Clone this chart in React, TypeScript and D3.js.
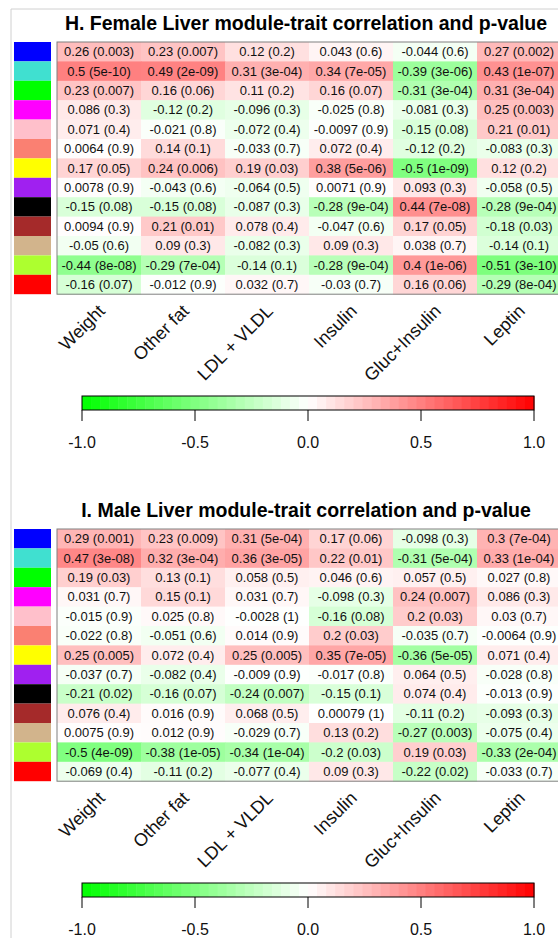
import React from 'react';
import * as d3 from 'd3';

const traits = ['Weight', 'Other fat', 'LDL + VLDL', 'Insulin', 'Gluc+Insulin', 'Leptin'];
const modules = ['blue', 'turquoise', 'green', 'magenta', 'pink', 'salmon', 'yellow', 'purple', 'black', 'brown', 'tan', 'greenyellow', 'red'];
const moduleColors = ['#0000FF', '#40E0D0', '#00FF00', '#FF00FF', '#FFC0CB', '#FA8072', '#FFFF00', '#A020F0', '#000000', '#A52A2A', '#D2B48C', '#ADFF2F', '#FF0000'];
const legendTicks = [-1, -0.5, 0, 0.5, 1];

const femaleCor = [
  [0.26, 0.23, 0.12, 0.043, -0.044, 0.27],
  [0.5, 0.49, 0.31, 0.34, -0.39, 0.43],
  [0.23, 0.16, 0.11, 0.16, -0.31, 0.31],
  [0.086, -0.12, -0.096, -0.025, -0.081, 0.25],
  [0.071, -0.021, -0.072, -0.0097, -0.15, 0.21],
  [0.0064, 0.14, -0.033, 0.072, -0.12, -0.083],
  [0.17, 0.24, 0.19, 0.38, -0.5, 0.12],
  [0.0078, -0.043, -0.064, 0.0071, 0.093, -0.058],
  [-0.15, -0.15, -0.087, -0.28, 0.44, -0.28],
  [0.0094, 0.21, 0.078, -0.047, 0.17, -0.18],
  [-0.05, 0.09, -0.082, 0.09, 0.038, -0.14],
  [-0.44, -0.29, -0.14, -0.28, 0.4, -0.51],
  [-0.16, -0.012, 0.032, -0.03, 0.16, -0.29],
];
const femaleP = [
  ['0.003', '0.007', '0.2', '0.6', '0.6', '0.002'],
  ['5e-10', '2e-09', '3e-04', '7e-05', '3e-06', '1e-07'],
  ['0.007', '0.06', '0.2', '0.07', '3e-04', '3e-04'],
  ['0.3', '0.2', '0.3', '0.8', '0.3', '0.003'],
  ['0.4', '0.8', '0.4', '0.9', '0.08', '0.01'],
  ['0.9', '0.1', '0.7', '0.4', '0.2', '0.3'],
  ['0.05', '0.006', '0.03', '5e-06', '1e-09', '0.2'],
  ['0.9', '0.6', '0.5', '0.9', '0.3', '0.5'],
  ['0.08', '0.08', '0.3', '9e-04', '7e-08', '9e-04'],
  ['0.9', '0.01', '0.4', '0.6', '0.05', '0.03'],
  ['0.6', '0.3', '0.3', '0.3', '0.7', '0.1'],
  ['8e-08', '7e-04', '0.1', '9e-04', '1e-06', '3e-10'],
  ['0.07', '0.9', '0.7', '0.7', '0.06', '8e-04'],
];

const maleCor = [
  [0.29, 0.23, 0.31, 0.17, -0.098, 0.3],
  [0.47, 0.32, 0.36, 0.22, -0.31, 0.33],
  [0.19, 0.13, 0.058, 0.046, 0.057, 0.027],
  [0.031, 0.15, 0.031, -0.098, 0.24, 0.086],
  [-0.015, 0.025, -0.0028, -0.16, 0.2, 0.03],
  [-0.022, -0.051, 0.014, 0.2, -0.035, -0.0064],
  [0.25, 0.072, 0.25, 0.35, -0.36, 0.071],
  [-0.037, -0.082, -0.009, -0.017, 0.064, -0.028],
  [-0.21, -0.16, -0.24, -0.15, 0.074, -0.013],
  [0.076, 0.016, 0.068, 0.00079, -0.11, -0.093],
  [0.0075, 0.012, -0.029, 0.13, -0.27, -0.075],
  [-0.5, -0.38, -0.34, -0.2, 0.19, -0.33],
  [-0.069, -0.11, -0.077, 0.09, -0.22, -0.033],
];
const maleP = [
  ['0.001', '0.009', '5e-04', '0.06', '0.3', '7e-04'],
  ['3e-08', '3e-04', '3e-05', '0.01', '5e-04', '1e-04'],
  ['0.03', '0.1', '0.5', '0.6', '0.5', '0.8'],
  ['0.7', '0.1', '0.7', '0.3', '0.007', '0.3'],
  ['0.9', '0.8', '1', '0.08', '0.03', '0.7'],
  ['0.8', '0.6', '0.9', '0.03', '0.7', '0.9'],
  ['0.005', '0.4', '0.005', '7e-05', '5e-05', '0.4'],
  ['0.7', '0.4', '0.9', '0.8', '0.5', '0.8'],
  ['0.02', '0.07', '0.007', '0.1', '0.4', '0.9'],
  ['0.4', '0.9', '0.5', '1', '0.2', '0.3'],
  ['0.9', '0.9', '0.7', '0.2', '0.003', '0.4'],
  ['4e-09', '1e-05', '1e-04', '0.03', '0.03', '2e-04'],
  ['0.4', '0.2', '0.4', '0.3', '0.02', '0.7'],
];

const W = 558;
const H = 938;
const FONT = 'Liberation Sans, Arial, sans-serif';

const color = d3.scaleLinear<string>().domain([-1, 0, 1]).range(['#00ff00', '#ffffff', '#ff0000']);

const Panel = ({ title, top, cor, p }: { title: string; top: number; cor: number[][]; p: string[][] }) => {
  const gridLeft = 57;
  const gridTop = top + 12;
  const colW = 84;
  const rowH = 19.4;

  const x = d3.scaleBand().domain(traits).range([gridLeft, gridLeft + colW * traits.length]);
  const y = d3.scaleBand().domain(modules).range([gridTop, gridTop + rowH * modules.length]);
  const lx = d3.scaleLinear().domain([-1, 1]).range([82, 534]);
  const barY = top + 366;
  const barH = 14;
  const steps = d3.range(50).map(i => -1 + (2 * i) / 50);

  return (
    <g>
      <text x={306} y={top} textAnchor="middle" fontFamily={FONT} fontWeight="bold" fontSize={19.5}>{title}</text>
      {modules.map((m, i) => (
        <rect key={m} x={14} y={y(m)!} width={37} height={y.bandwidth()} fill={moduleColors[i]} />
      ))}
      {modules.map((m, i) =>
        traits.map((t, j) => (
          <rect key={m + t} x={x(t)!} y={y(m)!} width={x.bandwidth() + 0.5} height={y.bandwidth() + 0.5} fill={color(cor[i][j])} />
        ))
      )}
      <rect x={gridLeft} y={gridTop} width={colW * traits.length} height={rowH * modules.length} fill="none" stroke="#808080" strokeWidth={1} />
      {modules.map((m, i) =>
        traits.map((t, j) => (
          <text key={'t' + m + t} x={x(t)! + x.bandwidth() / 2} y={y(m)! + y.bandwidth() / 2 + 4.5} textAnchor="middle" fontFamily={FONT} fontSize={13} fill="#111">
            {`${cor[i][j]} (${p[i][j]})`}
          </text>
        ))
      )}
      {traits.map(t => {
        const ax = x(t)! + x.bandwidth() / 2 + 7;
        const ay = gridTop + rowH * modules.length + 18;
        return (
          <text key={'l' + t} x={ax} y={ay} transform={`rotate(-45 ${ax} ${ay})`} textAnchor="end" fontFamily={FONT} fontSize={18} fill="#111">{t}</text>
        );
      })}
      {steps.map(s => (
        <rect key={'c' + s} x={lx(s)} y={barY} width={lx(s + 0.04) - lx(s) + 0.5} height={barH} fill={color(s + 0.02)} />
      ))}
      <rect x={lx(-1)} y={barY} width={lx(1) - lx(-1)} height={barH} fill="none" stroke="#000" strokeWidth={1} />
      {legendTicks.map(v => (
        <g key={'k' + v}>
          <line x1={lx(v)} x2={lx(v)} y1={barY + barH} y2={barY + barH + 11} stroke="#000" strokeWidth={1} />
          <text x={lx(v)} y={barY + 52} textAnchor="middle" fontFamily={FONT} fontSize={16} fill="#111">{d3.format('.1f')(v).replace('−', '-')}</text>
        </g>
      ))}
    </g>
  );
};

export default function App() {
  return (
    <svg width={W} height={H} style={{ position: 'absolute', left: 0, top: 0, background: '#fff' }}>
      <rect width={W} height={H} fill="#fff" />
      <line x1={11} x2={W} y1={9} y2={9} stroke="#d0d0d0" />
      <line x1={11} x2={11} y1={9} y2={H} stroke="#d0d0d0" />
      <Panel title="H. Female Liver module-trait correlation and p-value" top={30} cor={femaleCor} p={femaleP} />
      <Panel title="I. Male Liver module-trait correlation and p-value" top={517} cor={maleCor} p={maleP} />
    </svg>
  );
}
